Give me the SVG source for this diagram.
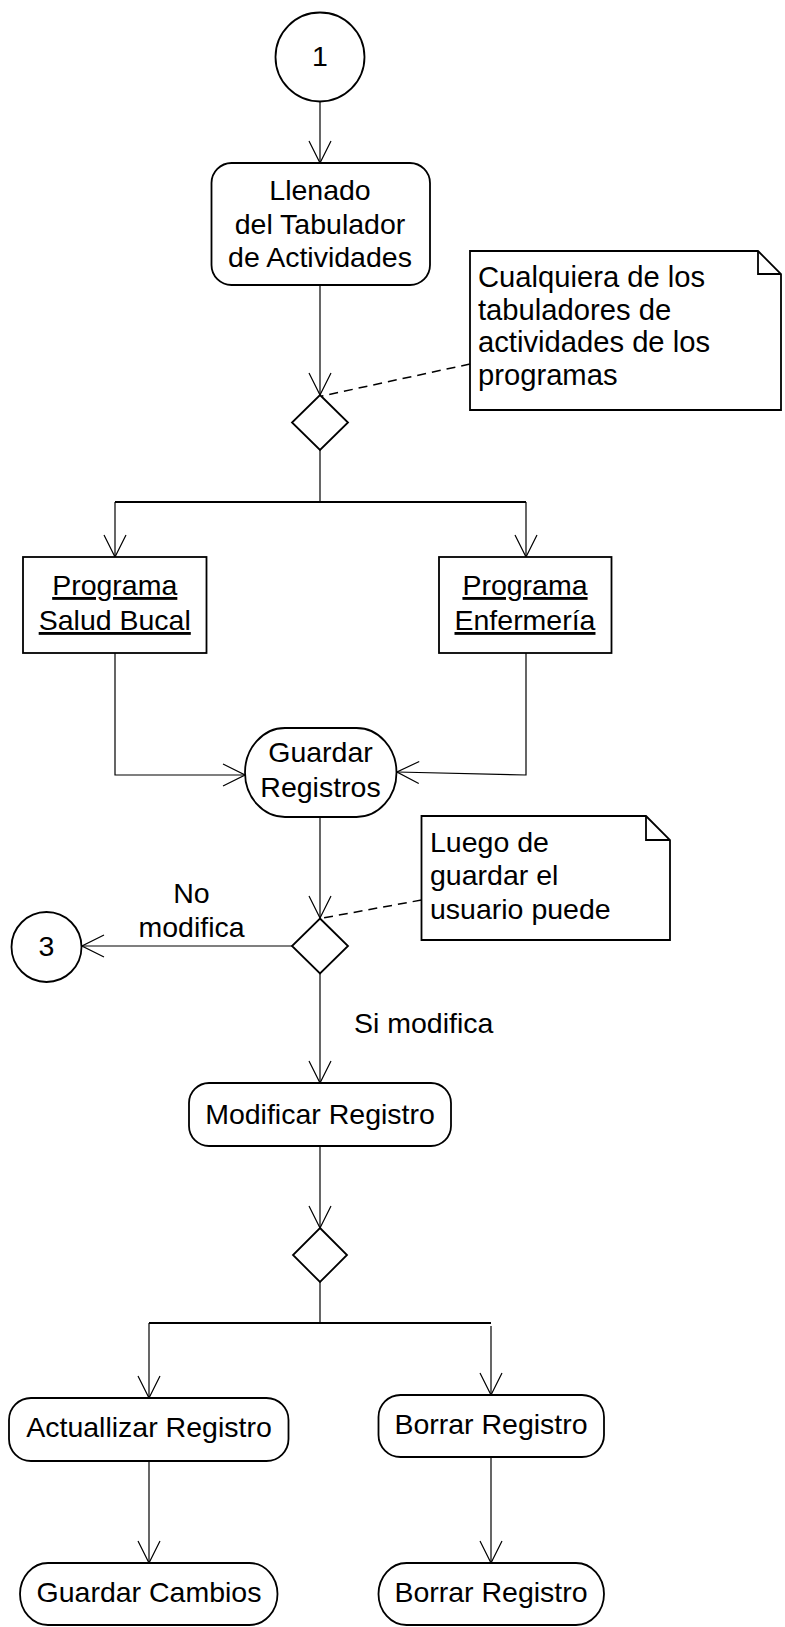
<svg xmlns="http://www.w3.org/2000/svg" width="785" height="1627" viewBox="0 0 785 1627">
<defs>
<style>
.n{fill:#fff;stroke:#000;stroke-width:1.8}
.c{fill:none;stroke:#000;stroke-width:1.2}
.f{fill:none;stroke:#000;stroke-width:1.8}
.d{fill:none;stroke:#000;stroke-width:1.5;stroke-dasharray:9,6}
.t{font-family:"Liberation Sans",Arial,sans-serif;font-size:28.5px;fill:#000}
.nt{font-size:29.2px}
.m{text-anchor:middle}
.u{text-decoration:underline}
</style>
<marker id="a" viewBox="0 0 24 24" refX="23" refY="12" markerWidth="24" markerHeight="24" markerUnits="userSpaceOnUse" orient="auto">
<path d="M1,1 L23,12 L1,23" fill="none" stroke="#000" stroke-width="1.2"/>
</marker>
</defs>
<g id="connectors">
<line class="c" x1="320" y1="101.5" x2="320" y2="163" marker-end="url(#a)"/>
<line class="c" x1="320" y1="285" x2="320" y2="395" marker-end="url(#a)"/>
<polyline class="c" points="320,450 320,502"/>
<polyline class="f" points="115,502 526,502"/>
<line class="c" x1="115" y1="502" x2="115" y2="557" marker-end="url(#a)"/>
<line class="c" x1="526" y1="502" x2="526" y2="557" marker-end="url(#a)"/>
<polyline class="c" points="115,653 115,775 245,775" marker-end="url(#a)"/>
<polyline class="c" points="526,653 526,775 397,772" marker-end="url(#a)"/>
<line class="c" x1="320" y1="817" x2="320" y2="918" marker-end="url(#a)"/>
<line class="c" x1="294.5" y1="946" x2="82" y2="946" marker-end="url(#a)"/>
<line class="c" x1="320" y1="973.5" x2="320" y2="1083" marker-end="url(#a)"/>
<line class="c" x1="320" y1="1146" x2="320" y2="1228" marker-end="url(#a)"/>
<polyline class="c" points="320,1282 320,1323"/>
<polyline class="f" points="149,1323 491,1323"/>
<line class="c" x1="149" y1="1323" x2="149" y2="1398" marker-end="url(#a)"/>
<line class="c" x1="491" y1="1326" x2="491" y2="1395" marker-end="url(#a)"/>
<line class="c" x1="149" y1="1461" x2="149" y2="1563" marker-end="url(#a)"/>
<line class="c" x1="491" y1="1457" x2="491" y2="1563" marker-end="url(#a)"/>
<line class="d" x1="470" y1="364" x2="322" y2="396"/>
<line class="d" x1="421.5" y1="900" x2="323" y2="918"/>
</g>
<g id="start1">
<circle class="n" cx="320" cy="57" r="44.5"/>
<text class="t m" x="320" y="66">1</text>
</g>
<g id="llenado">
<rect class="n" x="211.5" y="163" width="218.5" height="122" rx="20" ry="20"/>
<text class="t m" x="320" y="200">Llenado</text>
<text class="t m" x="320" y="233.5">del Tabulador</text>
<text class="t m" x="320" y="267">de Actividades</text>
</g>
<g id="note1">
<path class="n" d="M470,251 H758 L781,274 V410 H470 Z"/>
<path class="n" d="M758,251 V274 H781" style="fill:none"/>
<text class="t nt" x="478" y="287">Cualquiera de los</text>
<text class="t nt" x="478" y="319.5">tabuladores de</text>
<text class="t nt" x="478" y="352">actividades de los</text>
<text class="t nt" x="478" y="384.5">programas</text>
</g>
<g id="decision1">
<polygon class="n" points="320,395 348,422.5 320,450 292,422.5"/>
</g>
<g id="salud">
<rect class="n" x="23" y="557" width="183.5" height="96"/>
<text class="t m u" x="114.75" y="595">Programa</text>
<text class="t m u" x="114.75" y="630">Salud Bucal</text>
</g>
<g id="enfermeria">
<rect class="n" x="439" y="557" width="172.5" height="96"/>
<text class="t m u" x="525" y="595">Programa</text>
<text class="t m u" x="525" y="630">Enfermería</text>
</g>
<g id="guardar">
<rect class="n" x="245" y="728" width="151.5" height="89" rx="40" ry="44.5"/>
<text class="t m" x="320.5" y="762">Guardar</text>
<text class="t m" x="320.5" y="796.5">Registros</text>
</g>
<g id="note2">
<path class="n" d="M421.5,816 H646 L670,840 V940 H421.5 Z"/>
<path class="n" d="M646,816 V840 H670" style="fill:none"/>
<text class="t" x="430" y="852">Luego de</text>
<text class="t" x="430" y="885">guardar el</text>
<text class="t" x="430" y="919">usuario puede</text>
</g>
<g id="decision2">
<polygon class="n" points="320,918.5 348,946 320,973.5 292,946"/>
</g>
<g id="labels">
<text class="t m" x="191.5" y="903">No</text>
<text class="t m" x="191.5" y="937">modifica</text>
<text class="t" x="354" y="1033">Si modifica</text>
</g>
<g id="end3">
<circle class="n" cx="46.5" cy="947" r="35"/>
<text class="t m" x="46.5" y="956">3</text>
</g>
<g id="modificar">
<rect class="n" x="189" y="1083" width="262" height="63" rx="20" ry="20"/>
<text class="t m" x="320" y="1124">Modificar Registro</text>
</g>
<g id="decision3">
<polygon class="n" points="320,1228 347,1255 320,1282 293,1255"/>
</g>
<g id="actualizar">
<rect class="n" x="9" y="1398" width="279.5" height="63" rx="22" ry="22"/>
<text class="t m" x="149" y="1437">Actuallizar Registro</text>
</g>
<g id="borrar1">
<rect class="n" x="378.5" y="1395" width="225.5" height="62" rx="22" ry="22"/>
<text class="t m" x="491" y="1434">Borrar Registro</text>
</g>
<g id="guardarCambios">
<rect class="n" x="20" y="1563" width="257.5" height="62" rx="28" ry="31"/>
<text class="t m" x="149" y="1602">Guardar Cambios</text>
</g>
<g id="borrar2">
<rect class="n" x="378.5" y="1563" width="225.5" height="62" rx="28" ry="31"/>
<text class="t m" x="491" y="1602">Borrar Registro</text>
</g>
</svg>
